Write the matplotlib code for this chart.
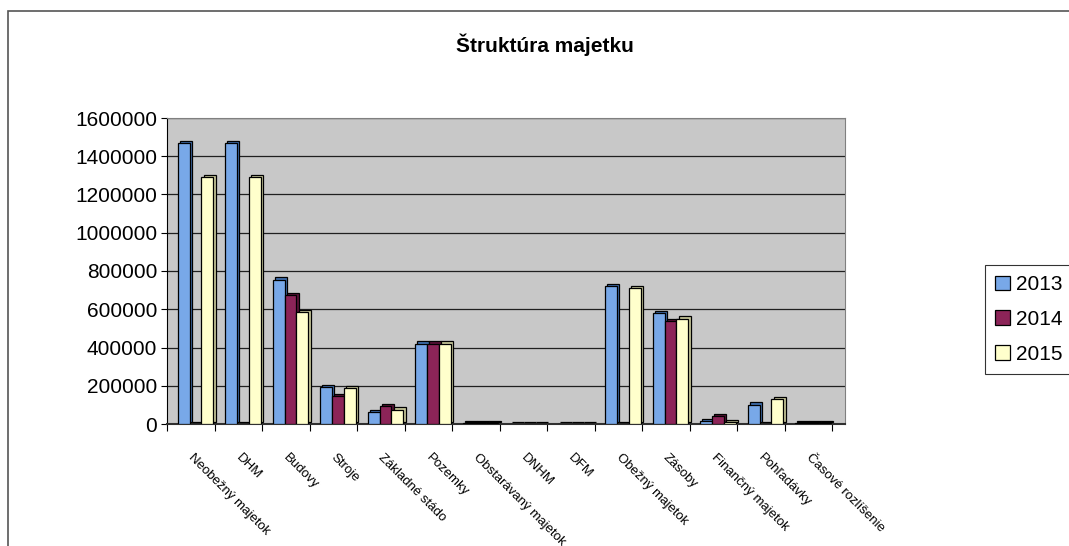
import matplotlib
matplotlib.use("Agg")
import matplotlib.pyplot as plt
import matplotlib.transforms as mtransforms
from matplotlib.patches import Rectangle
import numpy as np

plt.rcParams['font.family'] = ['Liberation Sans', 'DejaVu Sans']

categories = ["Neobežný majetok", "DHM", "Budovy", "Stroje", "Základné stádo",
              "Pozemky", "Obstarávaný majetok", "DNHM", "DFM", "Obežný majetok",
              "Zásoby", "Finančný majetok", "Pohľadávky", "Časové rozlíšenie"]
years = ["2013", "2014", "2015"]
v2013 = [1470000, 1470000, 755000, 194000, 61000, 420000, 5000, 1000, 500,
         721000, 581000, 17000, 101000, 3000]
v2014 = [0, 0, 672000, 145000, 93000, 420000, 5000, 1000, 500,
         0, 538000, 40000, 0, 3000]
v2015 = [1290000, 1290000, 586000, 188000, 75000, 420000, 5000, 1000, 500,
         712000, 551000, 10000, 131000, 3000]
yticks = [0, 200000, 400000, 600000, 800000, 1000000, 1200000, 1400000, 1600000]

face_colors = ["#78a8e8", "#8c2458", "#ffffcc"]
side_colors = ["#3f6fb0", "#5a1238", "#c8c89a"]

W, H = 1069, 546
fig = plt.figure(figsize=(W / 100, H / 100), dpi=100)
fig.patch.set_facecolor("white")

left_px, right_px, top_px, bot_px = 167, 845, 118, 424
ax = fig.add_axes([left_px / W, (H - bot_px) / H,
                   (right_px - left_px) / W, (bot_px - top_px) / H])
ax.set_facecolor("#c8c8c8")

unit_px = 47.5
ax.set_xlim(-0.5, -0.5 + (right_px - left_px) / unit_px)
ax.set_ylim(0, 1600000)

x = np.arange(len(categories))
bw = 0.25
offsets = [-bw, 0, bw]
series = [v2013, v2014, v2015]

shadow = mtransforms.ScaledTranslation(2.2 / 100, 2.2 / 100, fig.dpi_scale_trans)
for k, (vals, off) in enumerate(zip(series, offsets)):
    xs = x + off + 0.1
    ax.bar(xs, vals, width=bw, color=side_colors[k], edgecolor="black",
           linewidth=0.9, zorder=2 + k * 2,
           transform=ax.transData + shadow)
    ax.bar(xs, vals, width=bw, color=face_colors[k], edgecolor="black",
           linewidth=0.9, zorder=3 + k * 2, label=years[k])

ax.set_yticks(yticks)
ax.set_yticklabels([str(t) for t in yticks], fontsize=15)
ax.yaxis.grid(True, color="#202020", linewidth=0.9, zorder=1)
ax.set_axisbelow(True)
ax.tick_params(axis="y", length=4, width=0.8, pad=3)

ax.set_xticks(np.arange(len(categories) + 1) - 0.5)
ax.set_xticklabels([])
ax.tick_params(axis="x", length=5, width=0.8, direction="out")

for s in ["top", "right"]:
    ax.spines[s].set_color("#808080")
    ax.spines[s].set_linewidth(0.8)
ax.spines["left"].set_color("black")
ax.spines["bottom"].set_color("#303030")
ax.spines["bottom"].set_linewidth(1.5)

for i, lab in enumerate(categories):
    ax.text(i + 0.08, -0.09, lab, transform=ax.get_xaxis_transform(),
            rotation=-45, rotation_mode="anchor", ha="left", va="top",
            fontsize=9.5)

fig.text(545 / W, 1 - 45 / H, "Štruktúra majetku", ha="center", va="center",
         fontsize=15, fontweight="bold")

leg = fig.legend(loc="upper left", bbox_to_anchor=(985 / W, 1 - 265 / H),
                 fontsize=15, frameon=True, fancybox=False, edgecolor="black",
                 handlelength=0.7, handleheight=0.7, handletextpad=0.3,
                 labelspacing=0.75, borderpad=0.5, borderaxespad=0)
leg.get_frame().set_linewidth(0.8)

fig.patches.append(Rectangle((8 / W, -0.1), 1.2, 1.1 - 11 / H,
                             transform=fig.transFigure, fill=False,
                             edgecolor="#555555", linewidth=1.2))

fig.savefig("out.png", dpi=100)
